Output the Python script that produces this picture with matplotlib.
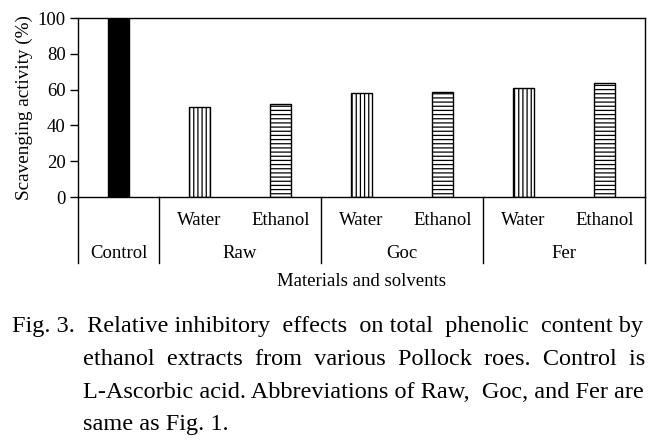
import matplotlib
matplotlib.use("Agg")
import matplotlib.pyplot as plt
import matplotlib.transforms as mtransforms

plt.rcParams['font.family'] = ['Liberation Serif', 'DejaVu Serif']
plt.rcParams['hatch.linewidth'] = 0.9

# ---- data ----
categories = ["Control", "Water", "Ethanol", "Water", "Ethanol", "Water", "Ethanol"]
values = [100, 50.4, 52.0, 58.1, 58.8, 61.0, 63.9]
groups = ["Control", "Raw", "Goc", "Fer"]
group_spans = [(0, 0), (1, 2), (3, 4), (5, 6)]
yticks = [0, 20, 40, 60, 80, 100]
caption_lines = [
    "Fig. 3. Relative inhibitory effects on total phenolic content by",
    "ethanol extracts from various Pollock roes. Control is",
    "L-Ascorbic acid. Abbreviations of Raw, Goc, and Fer are",
    "same as Fig. 1.",
]

W, H = 665, 440
fig = plt.figure(figsize=(W / 100, H / 100), dpi=100)
ax_l, ax_r, ax_t, ax_b = 78, 645, 18, 197
ax = fig.add_axes([ax_l / W, 1 - ax_b / H, (ax_r - ax_l) / W, (ax_b - ax_t) / H])

x = list(range(len(categories)))
styles = []
for i, c in enumerate(categories):
    if c == "Control":
        styles.append(dict(color="black", edgecolor="black", hatch=None))
    elif c == "Water":
        styles.append(dict(color="white", edgecolor="black", hatch="||||"))
    else:
        styles.append(dict(color="white", edgecolor="black", hatch="----"))
for xi, v, st in zip(x, values, styles):
    ax.bar(xi, v, width=0.26, linewidth=1.0, **st)

ax.set_xlim(-0.5, len(categories) - 0.5)
ax.set_ylim(0, 100)
ax.set_yticks(yticks)
ax.set_xticks([])
ax.tick_params(axis='y', direction='out', length=6, width=1, labelsize=13.5, pad=3)
for s in ax.spines.values():
    s.set_linewidth(1.0)
ax.set_ylabel("Scavenging activity (%)", fontsize=13.8, labelpad=3)

# category hierarchy below axis
trans = mtransforms.blended_transform_factory(ax.transData, ax.transAxes)
hpx = ax_b - ax_t
def yfrac(py):
    return (ax_b - py) / hpx

bounds = [-0.5]
for a, b in group_spans:
    bounds.append(b + 0.5)
for bx in bounds:
    ax.plot([bx, bx], [0, yfrac(263)], color="black", lw=1.0, transform=trans, clip_on=False)

for (a, b), g in zip(group_spans, groups):
    if a != b:
        for i in range(a, b + 1):
            ax.text(i, yfrac(220), categories[i], transform=trans, ha="center", va="center", fontsize=13.5)
    ax.text((a + b) / 2, yfrac(253), g, transform=trans, ha="center", va="center", fontsize=13.5)

fig.text(361.5 / W, 1 - 281 / H, "Materials and solvents", ha="center", va="center", fontsize=13.5)

# caption (approximately justified by widening word gaps)
cap_fs = 17.5
baselines = [332, 365, 398, 430]
lefts = [12, 83, 83, 83]
right_px = 645
justify = [True, True, True, False]
renderer = fig.canvas.get_renderer()

def width_of(s):
    t = fig.text(0, 0, s, fontsize=cap_fs)
    w = t.get_window_extent(renderer=renderer).width
    t.remove()
    return w

space_w = width_of("a a") - width_of("aa")
for line, by, lx, jf in zip(caption_lines, baselines, lefts, justify):
    s = line
    if jf:
        words = line.split(" ")
        gaps = len(words) - 1
        extra = (right_px - lx) - width_of(line)
        n = max(0, int(round(extra / space_w)))
        counts = [0] * gaps
        for k in range(n):
            counts[min(gaps - 1, int((k + 1) * gaps / (n + 1)))] += 1
        s = words[0]
        for w_, c in zip(words[1:], counts):
            s += " " * (1 + c) + w_
        if width_of(s) > (right_px - lx) + 4:
            s = line
    fig.text(lx / W, 1 - by / H, s, ha="left", va="baseline", fontsize=cap_fs)

fig.savefig("out.png", dpi=100)
